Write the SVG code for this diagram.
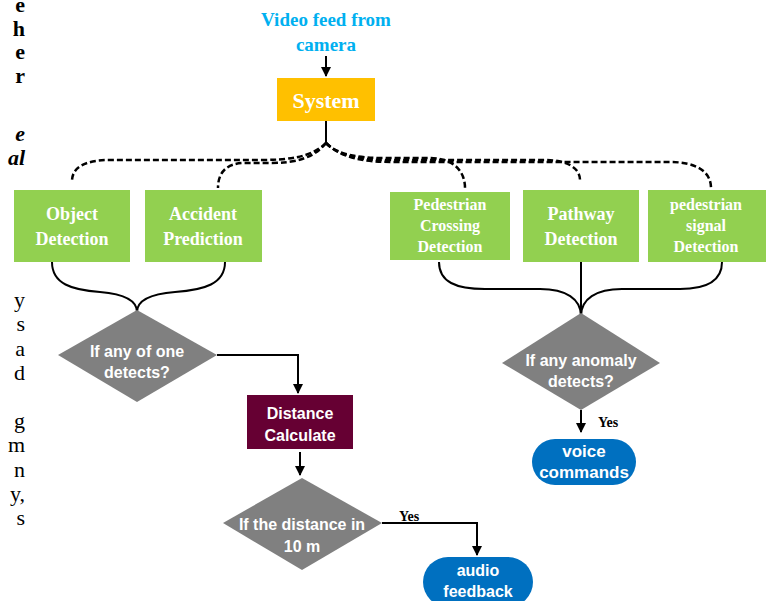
<svg xmlns="http://www.w3.org/2000/svg" width="768" height="601" viewBox="0 0 768 601">
<defs>
<marker id="ah" viewBox="0 0 10 10" refX="9" refY="5" markerWidth="5" markerHeight="5" orient="auto" markerUnits="strokeWidth">
<path d="M0,0 L10,5 L0,10 z" fill="#000"/>
</marker>
<style>
.bg{fill:#fff}
.green{fill:#92D050}
.ser{font-family:"Liberation Serif","Times New Roman",serif;font-weight:bold;fill:#fff;text-anchor:middle}
.san{font-family:"Liberation Sans",Arial,sans-serif;font-weight:bold;fill:#fff;text-anchor:middle}
.frag{font-family:"Liberation Serif","Times New Roman",serif;font-size:22px;fill:#000;text-anchor:end}
.dash{fill:none;stroke:#000;stroke-width:2.5;stroke-dasharray:6 3}
.solid{fill:none;stroke:#000;stroke-width:2}
.yes{font-family:"Liberation Serif","Times New Roman",serif;font-weight:bold;font-size:14px;fill:#000}
</style>
</defs>
<rect class="bg" x="0" y="0" width="768" height="601"/>

<g id="page-fragments">
<text class="frag" font-weight="bold" x="25" y="12">e</text>
<text class="frag" font-weight="bold" x="25" y="36">h</text>
<text class="frag" font-weight="bold" x="25" y="59">e</text>
<text class="frag" font-weight="bold" x="25" y="83">r</text>
<text class="frag" font-weight="bold" font-style="italic" x="25" y="141">e</text>
<text class="frag" font-weight="bold" font-style="italic" x="25" y="165">al</text>
<text class="frag" x="25" y="307">y</text>
<text class="frag" x="25" y="331">s</text>
<text class="frag" x="25" y="356">a</text>
<text class="frag" x="25" y="380">d</text>
<text class="frag" x="25" y="428">g</text>
<text class="frag" x="25" y="452">m</text>
<text class="frag" x="25" y="477">n</text>
<text class="frag" x="25" y="501">y,</text>
<text class="frag" x="25" y="525">s</text>
</g>

<g id="connectors">
<line class="solid" x1="326" y1="56" x2="326" y2="76" marker-end="url(#ah)"/>
<line class="solid" x1="326" y1="121" x2="326" y2="143"/>
<path class="dash" d="M326,143 C312,157 290,160 260,160 L110,160 C84,160 72,168 72,181"/>
<path class="dash" d="M326,143 C314,158 296,163 270,163 L245,163 C226,163 218,173 218,188"/>
<path class="dash" d="M326,143 C338,155 358,158 385,158 L430,158 C452,158 465,170 465,188"/>
<path class="dash" d="M326,143 C340,157 362,160 390,160 L545,160 C567,160 580,168 580,180"/>
<path class="dash" d="M326,143 C342,159 366,162 395,162 L670,162 C697,162 711,172 711,188"/>
<path class="solid" d="M52,262 C52,284 72,290 100,292 C124,294 137,300 137,312"/>
<path class="solid" d="M225,262 C225,284 204,290 175,292 C150,294 137,300 137,312"/>
<path class="solid" d="M439,262 C439,282 456,289 485,289 L540,289 C566,289 581,299 581,316"/>
<line class="solid" x1="581" y1="262" x2="581" y2="316"/>
<path class="solid" d="M722,262 C722,282 705,289 680,289 L622,289 C596,289 581,299 581,316"/>
<path class="solid" d="M217,355 L298,355 L298,393" marker-end="url(#ah)"/>
<line class="solid" x1="300" y1="452" x2="300" y2="475" marker-end="url(#ah)"/>
<path class="solid" d="M382,523 L477,523 L477,555" marker-end="url(#ah)"/>
<line class="solid" x1="581" y1="410" x2="581" y2="432" marker-end="url(#ah)"/>
<text class="yes" x="399" y="521">Yes</text>
<text class="yes" x="598" y="427">Yes</text>
</g>

<g id="input">
<text class="ser" x="326" y="26" font-size="19" fill="#00B0F0" style="fill:#00B0F0">Video feed from</text>
<text class="ser" x="326" y="51" font-size="19" style="fill:#00B0F0">camera</text>
</g>

<g id="system">
<rect x="277" y="78" width="98" height="43" fill="#FFC000"/>
<text class="ser" x="326" y="108" font-size="22">System</text>
</g>

<g id="object-detection">
<rect class="green" x="14" y="190" width="116" height="72"/>
<text class="ser" x="72" y="220" font-size="18">Object</text>
<text class="ser" x="72" y="245" font-size="18">Detection</text>
</g>

<g id="accident-prediction">
<rect class="green" x="145" y="190" width="117" height="72"/>
<text class="ser" x="203" y="220" font-size="18">Accident</text>
<text class="ser" x="203" y="245" font-size="18">Prediction</text>
</g>

<g id="pedestrian-crossing">
<rect class="green" x="390" y="192" width="120" height="68"/>
<text class="ser" x="450" y="210" font-size="16">Pedestrian</text>
<text class="ser" x="450" y="231" font-size="16">Crossing</text>
<text class="ser" x="450" y="252" font-size="16">Detection</text>
</g>

<g id="pathway-detection">
<rect class="green" x="523" y="190" width="116" height="72"/>
<text class="ser" x="581" y="220" font-size="18">Pathway</text>
<text class="ser" x="581" y="245" font-size="18">Detection</text>
</g>

<g id="pedestrian-signal">
<rect class="green" x="648" y="190" width="118" height="72"/>
<text class="ser" x="706" y="210" font-size="16">pedestrian</text>
<text class="ser" x="706" y="231" font-size="16">signal</text>
<text class="ser" x="706" y="252" font-size="16">Detection</text>
</g>

<g id="decision-any-one">
<polygon points="137,310 217,355 137,402 58,355" fill="#808080"/>
<text class="san" x="137" y="357" font-size="16">If any of one</text>
<text class="san" x="137" y="378" font-size="16">detects?</text>
</g>

<g id="distance-calculate">
<rect x="247" y="395" width="106" height="54" fill="#660033"/>
<text class="san" x="300" y="419" font-size="16">Distance</text>
<text class="san" x="300" y="441" font-size="16">Calculate</text>
</g>

<g id="decision-distance">
<polygon points="302,478 382,523 302,570 223,523" fill="#808080"/>
<text class="san" x="302" y="530" font-size="16">If the distance in</text>
<text class="san" x="302" y="552" font-size="16">10 m</text>
</g>

<g id="audio-feedback">
<rect x="423" y="557" width="110" height="50" rx="25" ry="25" fill="#0070C0"/>
<text class="san" x="478" y="576" font-size="16">audio</text>
<text class="san" x="478" y="597" font-size="16">feedback</text>
</g>

<g id="decision-anomaly">
<polygon points="581,313 660,363 581,410 502,363" fill="#808080"/>
<text class="san" x="581" y="366" font-size="16">If any anomaly</text>
<text class="san" x="581" y="387" font-size="16">detects?</text>
</g>

<g id="voice-commands">
<rect x="532" y="439" width="104" height="46" rx="23" ry="23" fill="#0070C0"/>
<text class="san" x="584" y="457" font-size="17">voice</text>
<text class="san" x="584" y="478" font-size="17">commands</text>
</g>
</svg>
